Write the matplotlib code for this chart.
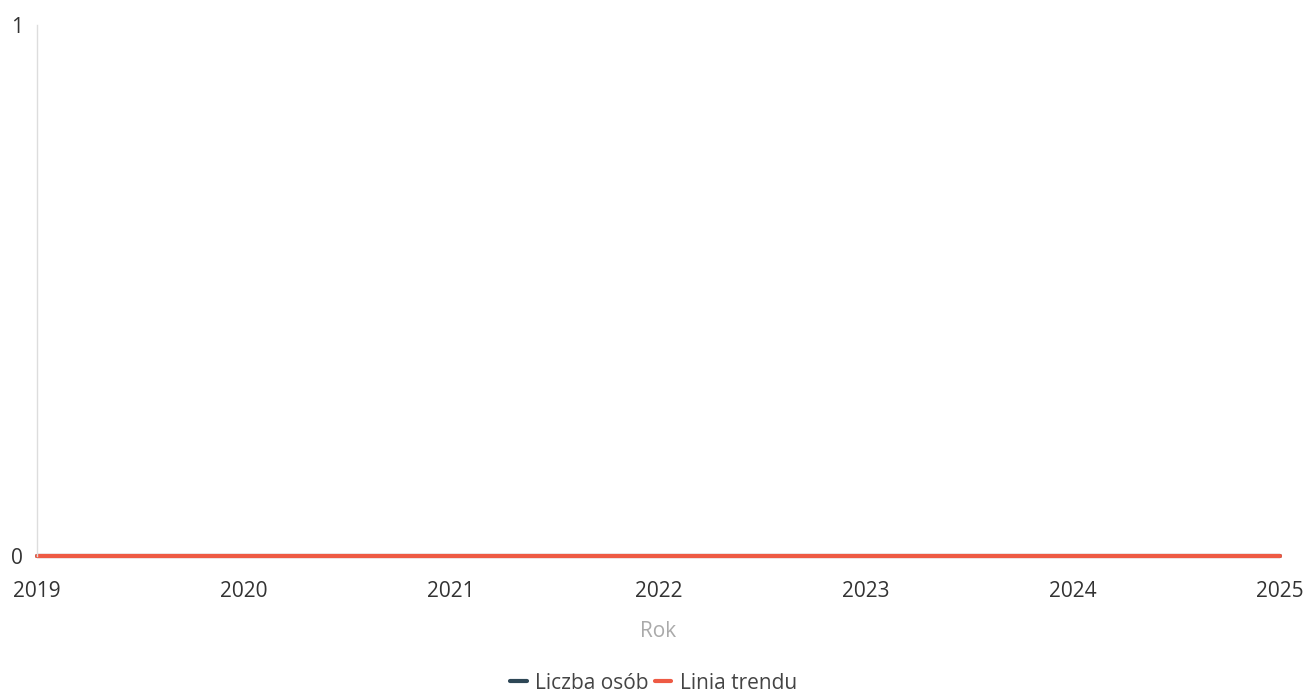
import matplotlib.pyplot as plt

plt.rcParams['font.family'] = ['Open Sans', 'DejaVu Sans']

years = [2019, 2020, 2021, 2022, 2023, 2024, 2025]
liczba_osob = [0, 0, 0, 0, 0, 0, 0]
linia_trendu = [0, 0, 0, 0, 0, 0, 0]

fig = plt.figure(figsize=(13.07, 6.93), dpi=100)
ax = fig.add_axes([0.0283, 0.198, 0.9507, 0.766])

ax.plot(years, liczba_osob, color='#2e4756', linewidth=3, label='Liczba osób',
        solid_capstyle='round', clip_on=False)
ax.plot(years, linia_trendu, color='#ee5a44', linewidth=3, label='Linia trendu',
        solid_capstyle='round', clip_on=False)

ax.set_xlim(2019, 2025)
ax.set_ylim(0, 1)
ax.set_yticks([0, 1])
ax.set_xticks(years)
ax.tick_params(axis='both', length=0, labelsize=15, colors='#333333')
ax.tick_params(axis='x', pad=18)
ax.tick_params(axis='y', pad=10)

for s in ['top', 'right', 'bottom']:
    ax.spines[s].set_visible(False)
ax.spines['left'].set_color('#dddddd')
ax.spines['left'].set_linewidth(1)

ax.set_xlabel('Rok', fontsize=15, color='#aaaaaa', labelpad=14)

fig.legend(loc='lower center', bbox_to_anchor=(0.5, -0.028), ncol=2, frameon=False,
           fontsize=15, handlelength=0.8, handletextpad=0.4, columnspacing=0.3,
           labelcolor='#444444')

fig.savefig('out.png', dpi=100)
